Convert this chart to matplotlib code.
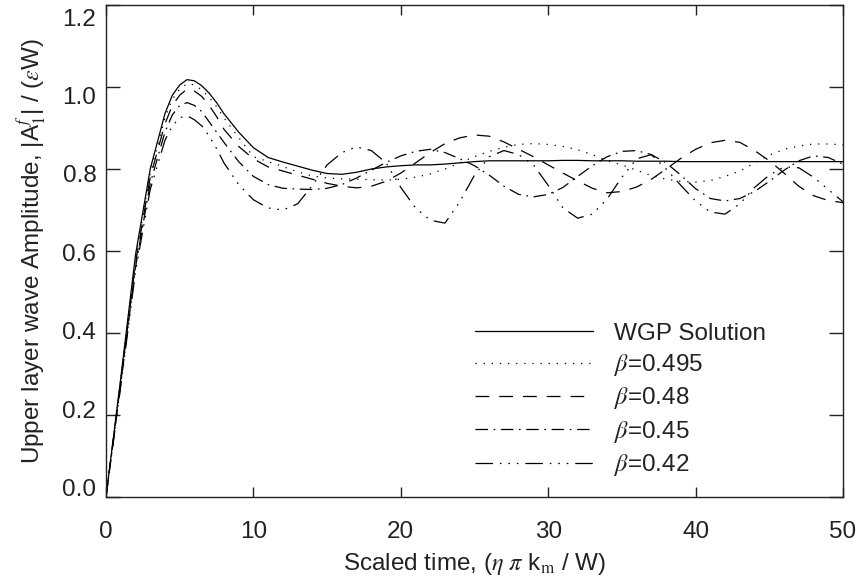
import matplotlib
matplotlib.use("Agg")
import matplotlib.pyplot as plt
import matplotlib.transforms as mtransforms

plt.rcParams['font.family'] = ['Liberation Sans', 'DejaVu Sans']
plt.rcParams['mathtext.fontset'] = 'stix'

# ---- data ----
t = [0, 1, 2, 3, 4, 4.5, 5, 5.5, 6, 6.5, 7, 7.5, 8, 9,
     10, 11, 12, 13, 14, 15, 16, 17, 18, 19,
     20, 21, 22, 23, 24, 25, 26, 27, 28, 29,
     30, 31, 32, 33, 34, 35, 36, 37, 38, 39,
     40, 41, 42, 43, 44, 45, 46, 47, 48, 49, 50]

wgp = [0.00, 0.29, 0.59, 0.80, 0.935, 0.98, 1.005, 1.018, 1.015, 1.003, 0.985, 0.962, 0.935, 0.89,
       0.852, 0.828, 0.817, 0.807, 0.797, 0.789, 0.787, 0.792, 0.800, 0.805,
       0.808, 0.810, 0.810, 0.812, 0.815, 0.818, 0.820, 0.820, 0.820, 0.820,
       0.820, 0.821, 0.821, 0.820, 0.820, 0.820, 0.819, 0.819, 0.819, 0.818,
       0.818, 0.818, 0.818, 0.818, 0.818, 0.818, 0.818, 0.818, 0.818, 0.818,
       0.818]

b495 = [0.00, 0.285, 0.58, 0.79, 0.925, 0.97, 0.995, 1.008, 1.005, 0.993, 0.975, 0.952, 0.925, 0.877,
        0.830, 0.818, 0.806, 0.793, 0.783, 0.778, 0.776, 0.775, 0.774, 0.773,
        0.775, 0.780, 0.788, 0.800, 0.815, 0.830, 0.843, 0.853, 0.860, 0.862,
        0.860, 0.855, 0.847, 0.835, 0.820, 0.810, 0.797, 0.784, 0.775, 0.770,
        0.768, 0.772, 0.782, 0.795, 0.815, 0.834, 0.848, 0.856, 0.861, 0.861,
        0.859]

b48 = [0.00, 0.28, 0.57, 0.78, 0.91, 0.955, 0.98, 0.995, 0.99, 0.977, 0.955, 0.928, 0.897, 0.855,
       0.825, 0.805, 0.795, 0.785, 0.775, 0.765, 0.758, 0.754, 0.758, 0.770,
       0.790, 0.815, 0.840, 0.862, 0.876, 0.883, 0.880, 0.866, 0.848, 0.830,
       0.810, 0.790, 0.771, 0.753, 0.742, 0.745, 0.756, 0.775, 0.800, 0.826,
       0.848, 0.864, 0.870, 0.865, 0.845, 0.820, 0.790, 0.758, 0.735, 0.723,
       0.718]

b45 = [0.00, 0.275, 0.56, 0.765, 0.89, 0.932, 0.955, 0.962, 0.955, 0.94, 0.915, 0.89, 0.865, 0.818,
       0.782, 0.762, 0.753, 0.751, 0.750, 0.753, 0.762, 0.778, 0.797, 0.816,
       0.832, 0.843, 0.848, 0.840, 0.825, 0.808, 0.785, 0.758, 0.738, 0.732,
       0.738, 0.755, 0.782, 0.808, 0.830, 0.843, 0.845, 0.835, 0.815, 0.785,
       0.752, 0.728, 0.722, 0.728, 0.745, 0.770, 0.797, 0.820, 0.832, 0.828,
       0.812]

b42 = [0.00, 0.27, 0.55, 0.75, 0.87, 0.905, 0.925, 0.93, 0.92, 0.905, 0.88, 0.85, 0.815, 0.762,
       0.725, 0.705, 0.700, 0.715, 0.760, 0.810, 0.840, 0.854, 0.845, 0.815,
       0.755, 0.705, 0.675, 0.668, 0.720, 0.785, 0.830, 0.845, 0.835, 0.810,
       0.760, 0.705, 0.680, 0.690, 0.727, 0.780, 0.825, 0.835, 0.800, 0.760,
       0.722, 0.695, 0.690, 0.715, 0.755, 0.785, 0.805, 0.803, 0.780, 0.750,
       0.720]

labels = ["WGP Solution", r"$\beta$=0.495", r"$\beta$=0.48",
          r"$\beta$=0.45", r"$\beta$=0.42"]

xticks = [0, 10, 20, 30, 40, 50]
yticks = [0.0, 0.2, 0.4, 0.6, 0.8, 1.0, 1.2]

FS = 17.5
TXT = '#222222'

# ---- figure ----
fig = plt.figure(figsize=(8.6, 5.87), dpi=100)
ax = fig.add_axes([106/860, 1-497/587, (843-106)/860, (497-5)/587])

styles = [
    dict(linestyle='-'),
    dict(linestyle=(0, (1.0, 5.5))),
    dict(linestyle=(0, (11, 8))),
    dict(linestyle=(0, (10, 4.5, 1.3, 4.5))),
    dict(linestyle=(0, (14, 5.5, 1.3, 5.5, 1.3, 5.5, 1.3, 5.5))),
]
series = [wgp, b495, b48, b45, b42]
for ys, st, lab in zip(series, styles, labels):
    ax.plot(t, ys, color='black', lw=0.9, label=lab, **st)

ax.set_xlim(0, 50)
ax.set_ylim(0, 1.2)
ax.set_xticks(xticks)
ax.set_yticks(yticks)
ax.set_yticklabels([f"{v:.1f}" for v in yticks])
ax.tick_params(axis='both', direction='in', top=True, right=True,
               labelsize=FS, colors=TXT, width=1.0)
ax.tick_params(axis='y', length=10, pad=7)
ax.tick_params(axis='x', length=7, pad=17)
for s in ax.spines.values():
    s.set_linewidth(1.0)
    s.set_color(TXT)

# y tick labels sit slightly inside the axis range (as in the reference)
for tk, v in zip(ax.yaxis.get_major_ticks(), yticks):
    tick_px = 497 - 410 * v
    off_px = 12 - 0.043 * (tick_px - 5)          # downward shift in pixels
    tr = mtransforms.ScaledTranslation(0, -off_px / 100.0, fig.dpi_scale_trans)
    tk.label1.set_transform(tk.label1.get_transform() + tr)

ax.set_xlabel(r"Scaled time, ($\eta\ \pi$ k$_{\rm m}$ / W)", fontsize=FS,
              color=TXT, labelpad=6)
ax.set_ylabel(r"Upper layer wave Amplitude, |A$_{1}^{f}$| / ($\varepsilon$W)",
              fontsize=FS, color=TXT, labelpad=10)

leg = ax.legend(loc='upper left', bbox_to_anchor=(0.50, 0.354), frameon=False,
                fontsize=FS, handlelength=4.86, handletextpad=0.9,
                labelspacing=0.30, borderpad=0, borderaxespad=0)
for txt in leg.get_texts():
    txt.set_color(TXT)

fig.savefig("out.png", dpi=100)
